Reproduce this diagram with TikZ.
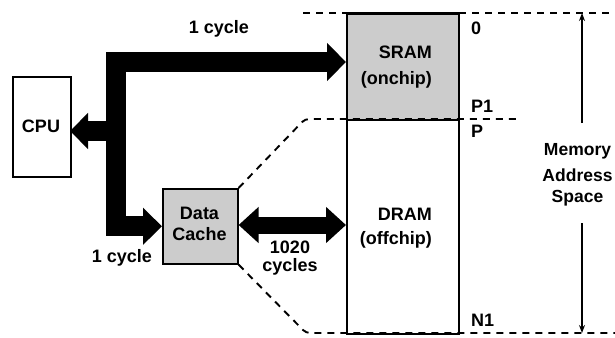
\documentclass[tikz,border=0pt]{standalone}
\usepackage{fontspec}
\setmainfont{Liberation Sans}
\usetikzlibrary{arrows.meta}
\begin{document}
\begin{tikzpicture}[x=1pt,y=-1pt,
  lbl/.style={font=\bfseries\fontsize{18}{21}\selectfont, inner sep=0pt},
  box/.style={draw, line width=1.6pt, inner sep=0pt, anchor=north west},
  bus/.style={line width=20pt, black},
  bus2/.style={line width=17pt, black},
  dsh/.style={dash pattern=on 7pt off 6pt, line width=1.9pt, rounded corners=4pt},
  marr/.style={line width=1.8pt, -{Stealth[length=8pt,width=6pt]}}
]
\useasboundingbox (0,0) rectangle (615,337);
\clip (0,0) rectangle (615,337);

% boxes
\node[box, minimum width=58pt, minimum height=100pt] (cpu) at (12,76) {};
\node[lbl] (cputxt) at (41,126) {CPU};
\node[box, fill=gray!40, minimum width=75pt, minimum height=75pt] (cache) at (162,188) {};
\node[lbl, align=center] (cachetxt) at (199.5,224) {Data\\Cache};
\node[box, fill=gray!40, minimum width=112pt, minimum height=106pt] (sram) at (346,13) {};
\node[box, minimum width=112pt, minimum height=214pt] (dram) at (346,119) {};

% dashed guide lines
\draw[dsh] (303,13) -- (615,13);
\draw[dsh] (cache.north east) -- (305,119) -- (517,119);
\draw[dsh] (cache.south east) -- (306,333) -- (615,333);

% redraw box border over dashes
\draw[line width=1.6pt] (sram.north west) -- (sram.north east);

% coordinates
\coordinate (sramin) at (346,62);
\coordinate (cpuin) at (70,131);
\coordinate (busmid) at (116,131);
\coordinate (buscorner) at (116,62);
\coordinate (dramin) at (346,225);

% thick buses
\draw[bus, {Triangle[length=19pt,width=36pt]}-{Triangle[length=19pt,width=37pt]}] (cache.west) -| (buscorner) -- (sramin);
\draw[bus, -{Triangle[length=18pt,width=35pt]}] (busmid) -- (cpuin);
\draw[bus2, {Triangle[length=20pt,width=35pt]}-{Triangle[length=20pt,width=35pt]}] (cache.east |- dramin) -- (dramin);

% labels
\node[lbl] (c1) at (219,29) {1 cycle};
\node[lbl] (c2) at (122,258) {1 cycle};
\node[lbl, align=center, font=\bfseries\fontsize{18}{18}\selectfont] (c3) at (290,258) {1020\\cycles};
\node[lbl, align=right, anchor=east, font=\bfseries\fontsize{18}{26}\selectfont] (st) at (432,67) {SRAM\\(onchip)};
\node[lbl, align=right, anchor=east, font=\bfseries\fontsize{18}{24}\selectfont] (dt) at (432,228) {DRAM\\(offchip)};
\node[lbl, anchor=west] (a0) at (471,28) {0};
\node[lbl, anchor=west] (ap1) at (471,106) {P1};
\node[lbl, anchor=west] (ap) at (471,131) {P};
\node[lbl, anchor=west] (an1) at (471,320) {N1};
\node[lbl, align=center, font=\bfseries\fontsize{17.5}{21}\selectfont] (mas) at (577.5,175) {Memory\\[5pt]Address\\Space};

% memory address space arrow
\coordinate (mt) at (582,13);
\coordinate (mb) at (582,333);
\coordinate (mt0) at (582,123);
\coordinate (mb0) at (582,223);
\draw[marr] (mt0) -- (mt);
\draw[marr] (mb0) -- (mb);
\end{tikzpicture}
\end{document}
